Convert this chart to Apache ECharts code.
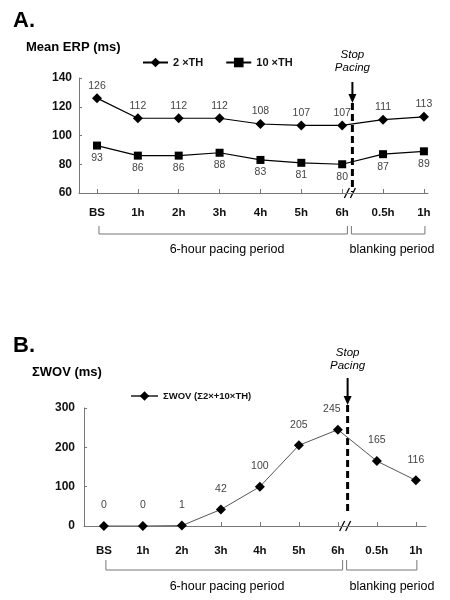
<!DOCTYPE html>
<html><head><meta charset="utf-8">
<script src="https://cdn.jsdelivr.net/npm/echarts@6/dist/echarts.min.js"></script>
<style>html,body{margin:0;padding:0;background:#fff}#c{width:450px;height:600px}</style>
</head><body><div id="c"></div>
<script>
const categories = ['BS','1h','2h','3h','4h','5h','6h','0.5h','1h'];
const erp2TH = [126,112,112,112,108,107,107,111,113];
const erp10TH = [93,86,86,88,83,81,80,87,89];
const wovSum = [0,0,1,42,100,205,245,165,116];
const erpTicks = [60,80,100,120,140];
const wovTicks = [0,100,200,300];
const stopPacingAt = 6.25;
const periods = ['6-hour pacing period','blanking period'];
const seriesNames = ['2 ×TH','10 ×TH','ΣWOV (Σ2×+10×TH)'];

const FONT = '"Liberation Sans", Arial, sans-serif';
const pts = arr => arr.map((v,i)=>[i,v]);
const catIdx = categories.map((c,i)=>i);

function xAxisCfg(gi,min,max,margin){
  return {type:'value',gridIndex:gi,min:min,max:max,splitLine:{show:false},
    axisLine:{onZero:false,lineStyle:{color:'#777',width:1}},
    axisTick:{show:true,customValues:catIdx,inside:true,length:4,lineStyle:{color:'#777'}},
    axisLabel:{customValues:catIdx,formatter:v=>categories[Math.round(v)],margin:margin,
      fontFamily:FONT,fontWeight:'bold',fontSize:11.5,color:'#111'}};
}
function yAxisCfg(gi,ticks,margin){
  return {type:'value',gridIndex:gi,min:ticks[0],max:ticks[ticks.length-1],
    interval:ticks[1]-ticks[0],splitLine:{show:false},
    axisLine:{show:true,onZero:false,lineStyle:{color:'#777',width:1}},
    axisTick:{show:true,inside:true,length:3,lineStyle:{color:'#777'}},
    axisLabel:{margin:margin,fontFamily:FONT,fontWeight:'bold',fontSize:12,color:'#111'}};
}
const lbl = (pos,dist)=>({show:true,position:pos,distance:dist,color:'#444',fontSize:10.5,fontFamily:FONT});

const chart = echarts.init(document.getElementById('c'),null,{renderer:'canvas'});
chart.setOption({
  animation:false,
  backgroundColor:'#fff',
  grid:[{left:79,top:78,width:349,height:115},{left:84,top:408,width:342,height:118}],
  xAxis:[xAxisCfg(0,-0.44,8.1,14),xAxisCfg(1,-0.51,8.26,19)],
  yAxis:[yAxisCfg(0,erpTicks,7),yAxisCfg(1,wovTicks,9)],
  legend:[
    {data:[seriesNames[0],seriesNames[1]],left:142,top:57,padding:0,itemWidth:25,itemHeight:12,itemGap:22,
     textStyle:{fontFamily:FONT,fontWeight:'bold',fontSize:11,color:'#111'}},
    {data:[seriesNames[2]],left:130,top:391,padding:0,itemWidth:27,itemHeight:12,
     textStyle:{fontFamily:FONT,fontWeight:'bold',fontSize:9.5,color:'#111'}}
  ],
  series:[
    {type:'line',name:seriesNames[0],xAxisIndex:0,yAxisIndex:0,data:pts(erp2TH),
     symbol:'diamond',symbolSize:10,lineStyle:{color:'#000',width:1.2},itemStyle:{color:'#000'},
     label:lbl('top',2)},
    {type:'line',name:seriesNames[1],xAxisIndex:0,yAxisIndex:0,data:pts(erp10TH),
     symbol:'rect',symbolSize:8,lineStyle:{color:'#000',width:1.2},itemStyle:{color:'#000'},
     label:lbl('bottom',3)},
    {type:'line',name:seriesNames[2],xAxisIndex:1,yAxisIndex:1,data:pts(wovSum),
     symbol:'diamond',symbolSize:10,lineStyle:{color:'#555',width:1},itemStyle:{color:'#000'},
     label:lbl('top',10),
     labelLayout:p=>(p.dataIndex===6?{dx:-6}:{})}
  ]
});

function gridRect(gi){ return chart.getModel().getComponent('grid',gi).coordinateSystem.getRect(); }
function xp(gi,v){ return chart.convertToPixel({xAxisIndex:gi},v); }

const g = [];
function txt(x,y,s,style){ g.push({type:'text',x:x,y:y,style:Object.assign({text:s,fontFamily:FONT,fill:'#000'},style)}); }
function line(x1,y1,x2,y2,w,color,dash){ g.push({type:'line',shape:{x1,y1,x2,y2},style:{stroke:color||'#000',lineWidth:w||1,lineDash:dash||null}}); }

function annotate(gi,o){
  const r = gridRect(gi);
  const bottom = r.y + r.height, top = r.y;
  const dx = xp(gi,stopPacingAt);
  const it = {fontStyle:'italic',fontSize:11.5,textAlign:'center',textVerticalAlign:'middle'};
  txt(dx,top+o.t1,'Stop',it);
  txt(dx,top+o.t2,'Pacing',it);
  line(dx,top+o.a1,dx,top+o.a2-6,2);
  g.push({type:'polygon',shape:{points:[[dx-4,top+o.a2-9],[dx+4,top+o.a2-9],[dx,top+o.a2]]},style:{fill:'#000'}});
  line(dx,top+o.a2,dx,bottom+o.dEnd,3,'#000',[7,4]);
  line(dx-8,bottom+5,dx-3,bottom-5,1.3);
  line(dx-2,bottom+5,dx+3,bottom-5,1.3);
  const x0 = xp(gi,0), x8 = xp(gi,8);
  const by = bottom+o.b, bt = bottom+o.bt;
  line(x0+2,by,dx-5,by,1,'#777'); line(x0+2,bt,x0+2,by,1,'#777'); line(dx-5,bt,dx-5,by,1,'#777');
  line(dx-1,by,x8+1,by,1,'#777'); line(dx-1,bt,dx-1,by,1,'#777'); line(x8+1,bt,x8+1,by,1,'#777');
  const pt = {fontSize:12.5,textAlign:'center',textVerticalAlign:'middle'};
  txt(227,bottom+o.pt,periods[0],pt);
  txt(392,bottom+o.pt,periods[1],pt);
}
annotate(0,{t1:-23,t2:-10,a1:4,a2:25,dEnd:-1,b:41,bt:33,pt:57});
annotate(1,{t1:-55,t2:-42,a1:-30,a2:-3,dEnd:-13,b:44,bt:34,pt:61});

const big = {fontWeight:'bold',fontSize:22,textVerticalAlign:'middle'};
const sub = {fontWeight:'bold',fontSize:13,textVerticalAlign:'middle'};
txt(13,21,'A.',big);
txt(26,47,'Mean ERP (ms)',sub);
txt(13,346,'B.',big);
txt(32,372,'ΣWOV (ms)',sub);

chart.setOption({graphic:g});
</script></body></html>
